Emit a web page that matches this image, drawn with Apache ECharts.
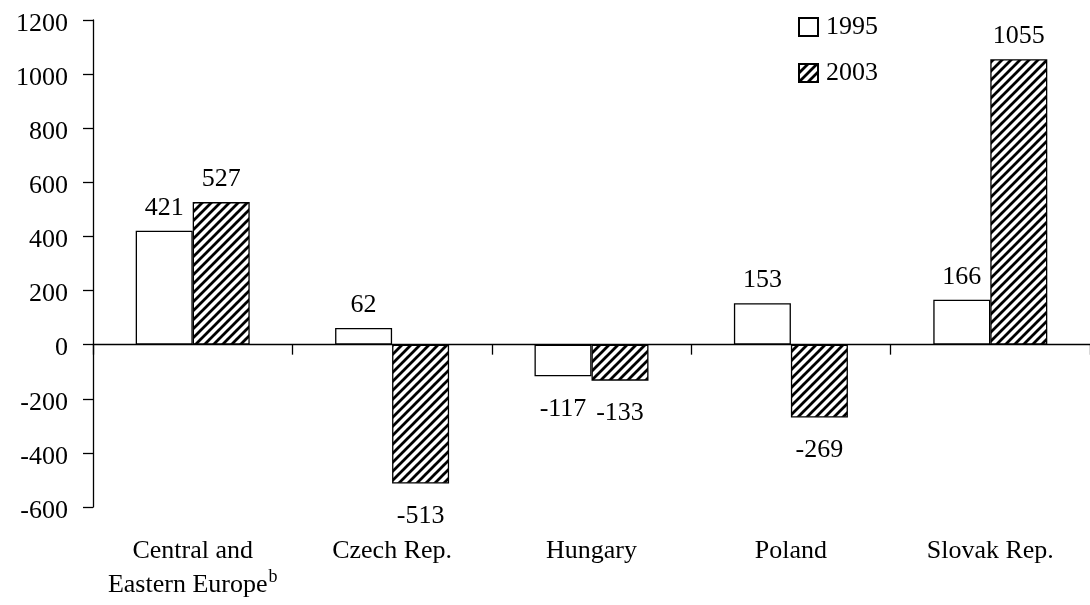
<!DOCTYPE html>
<html>
<head>
<meta charset="utf-8">
<script src="https://cdn.jsdelivr.net/npm/echarts@6/dist/echarts.min.js"></script>
<style>html,body{margin:0;padding:0;background:#fff}#c{width:1090px;height:605px}</style>
</head>
<body>
<div id="c"></div>
<script>
var categories = ['Central and\nEastern Europe{sup|b}', 'Czech Rep.', 'Hungary', 'Poland', 'Slovak Rep.'];
var seriesNames = ['1995', '2003'];
var values1995 = [421, 62, -117, 153, 166];
var values2003 = [527, -513, -133, -269, 1055];
var yTicks = { min: -600, max: 1200, interval: 200 };

var FONT = "'Liberation Serif', 'Times New Roman', serif";
var FS = 26;

function hatch() {
  var c = document.createElement('canvas');
  var s = 9;
  c.width = s; c.height = s;
  var g = c.getContext('2d');
  g.fillStyle = '#fff';
  g.fillRect(0, 0, s, s);
  g.strokeStyle = '#000';
  g.lineWidth = 2.8;
  g.beginPath();
  g.moveTo(-2, s + 2); g.lineTo(s + 2, -2);
  g.moveTo(-3, 3); g.lineTo(3, -3);
  g.moveTo(s - 3, s + 3); g.lineTo(s + 3, s - 3);
  g.stroke();
  return c;
}

function mk(vals) {
  return vals.map(function (v) {
    return { value: v, label: { position: v < 0 ? 'bottom' : 'top', distance: v < 0 ? 20 : 10 } };
  });
}

var chart = echarts.init(document.getElementById('c'), null, { renderer: 'canvas' });
chart.setOption({
  animation: false,
  textStyle: { fontFamily: FONT },
  grid: { left: 93, top: 20, width: 1000, height: 487, containLabel: false },
  legend: {
    data: seriesNames,
    orient: 'vertical',
    left: 793,
    top: 9,
    itemWidth: 19,
    itemHeight: 18,
    itemGap: 20,
    icon: 'rect',
    textStyle: { fontFamily: FONT, fontSize: FS, color: '#000', padding: [0, 0, 0, 3] }
  },
  xAxis: [
    {
      type: 'category',
      data: categories,
      position: 'bottom',
      axisLine: { show: false, onZero: false },
      axisTick: { show: false },
      axisLabel: {
        margin: 27,
        color: '#000',
        fontFamily: FONT,
        fontSize: FS,
        lineHeight: 34,
        interval: 0,
        rich: {
          sup: { fontSize: 18, fontFamily: FONT, color: '#000', verticalAlign: 'top', lineHeight: 34, padding: [0, 0, 10, 1] }
        }
      }
    },
    {
      type: 'category',
      data: categories,
      position: 'bottom',
      axisLine: { show: true, onZero: true, lineStyle: { color: '#000', width: 1.3 } },
      axisTick: { show: true, length: 10, lineStyle: { color: '#000', width: 1.3 } },
      axisLabel: { show: false }
    }
  ],
  yAxis: {
    type: 'value',
    min: yTicks.min,
    max: yTicks.max,
    interval: yTicks.interval,
    axisLine: { show: true, lineStyle: { color: '#000', width: 1.3 } },
    axisTick: { show: true, length: 10, lineStyle: { color: '#000', width: 1.3 } },
    splitLine: { show: false },
    axisLabel: {
      margin: 25, color: '#000', fontFamily: FONT, fontSize: FS,
      verticalAlign: 'top', lineHeight: 8,
      formatter: function (v) { return String(v); }
    }
  },
  series: [
    {
      name: seriesNames[0],
      type: 'bar',
      xAxisIndex: 0,
      data: mk(values1995),
      barWidth: 57,
      barGap: '0%',
      itemStyle: { color: '#fff', borderColor: '#000', borderWidth: 1.3 },
      label: { show: true, color: '#000', fontFamily: FONT, fontSize: FS }
    },
    {
      name: seriesNames[1],
      type: 'bar',
      xAxisIndex: 0,
      data: mk(values2003),
      barWidth: 57,
      barGap: '0%',
      itemStyle: { color: { image: hatch(), repeat: 'repeat' }, borderColor: '#000', borderWidth: 1.3 },
      label: { show: true, color: '#000', fontFamily: FONT, fontSize: FS }
    }
  ]
});
</script>
</body>
</html>
